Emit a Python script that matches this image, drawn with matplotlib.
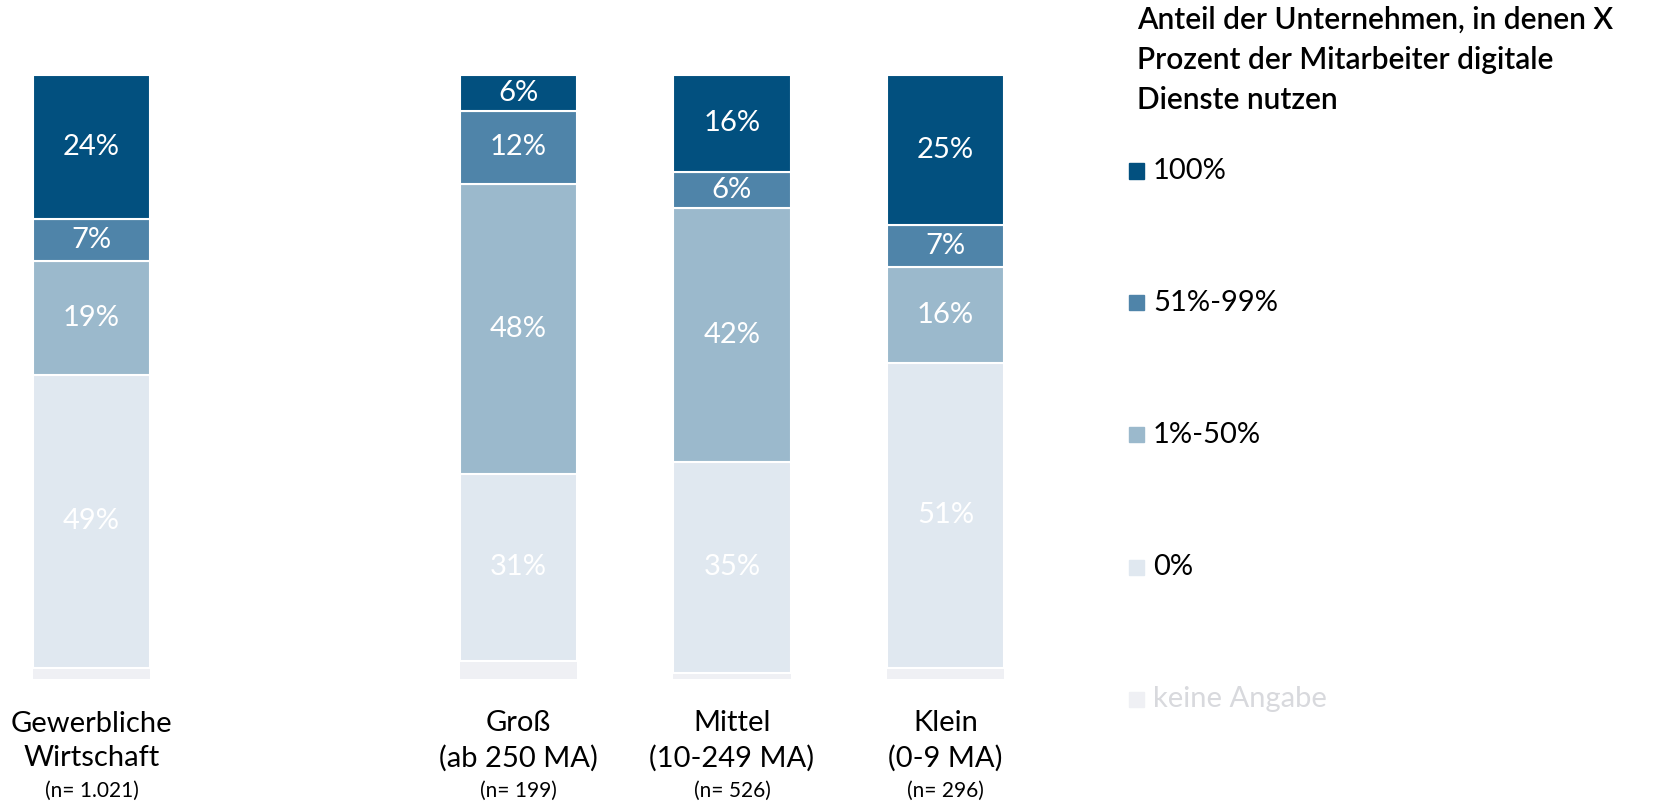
import numpy as np
import matplotlib.pyplot as plt
from matplotlib.patches import Rectangle

plt.rcParams['font.family'] = ['Lato', 'DejaVu Sans']

# data (percent of companies)
categories = ["Gewerbliche\nWirtschaft", "Groß\n(ab 250 MA)", "Mittel\n(10-249 MA)", "Klein\n(0-9 MA)"]
sample_sizes = ["(n= 1.021)", "(n= 199)", "(n= 526)", "(n= 296)"]
positions = [0, 2, 3, 4]

share_100 = [24, 6, 16, 25]
share_51_99 = [7, 12, 6, 7]
share_1_50 = [19, 48, 42, 16]
share_0 = [49, 31, 35, 51]
no_answer = [1.8, 3, 1, 1.8]

series_names = ["100%", "51%-99%", "1%-50%", "0%", "keine Angabe"]
colors = ["#02507f", "#4f84a9", "#9bb9cc", "#e0e8f0", "#eff0f4"]

# stack from bottom: keine Angabe, 0%, 1-50%, 51-99%, 100%
stack = [no_answer, share_0, share_1_50, share_51_99, share_100]
stack_colors = colors[::-1]

fig = plt.figure(figsize=(16.56, 8.05), dpi=100)
W, H = 1656, 805
ax = fig.add_axes([20 / W, (H - 679) / H, 1020 / W, 604 / H])

vals = np.array(stack, dtype=float)
vals = vals / vals.sum(axis=0) * 100
bottom = np.zeros(len(positions))
for i, row in enumerate(vals):
    ax.bar(positions, row, bottom=bottom, width=0.55, color=stack_colors[i],
           edgecolor="white", linewidth=1.5 if i > 0 else 0)
    if i > 0:
        for x, b, h, v in zip(positions, bottom, row, np.array(stack[i])):
            ax.text(x, b + h / 2, f"{v:.0f}%", ha="center", va="center",
                    color="white", fontsize=21)
    bottom += row

ppu = 213.5
ax.set_xlim((20 - 91.5) / ppu, (1040 - 91.5) / ppu)
ax.set_ylim(0, 100)
ax.axis("off")

# category labels
for x, cat, n in zip(positions, categories, sample_sizes):
    xf = (91.5 + ppu * x) / W
    fig.text(xf, 1 - 741 / H, cat, ha="center", va="center", fontsize=21,
             linespacing=1.38)
    fig.text(xf, 1 - 791 / H, n, ha="center", va="center", fontsize=15)

# legend title
fig.text(1137 / W, 1 - 60 / H,
         "Anteil der Unternehmen, in denen X\nProzent der Mitarbeiter digitale\nDienste nutzen",
         ha="left", va="center", fontsize=21.5, fontweight="semibold", linespacing=1.52)

# legend entries
legend_y = [171, 303, 435, 567, 699]
text_colors = ["black", "black", "black", "black", "#d8d9dd"]
for name, c, y, tc in zip(series_names, colors, legend_y, text_colors):
    fig.patches.append(Rectangle((1129 / W, 1 - (y + 7.5) / H), 15 / W, 15 / H,
                                 transform=fig.transFigure, color=c))
    fig.text(1153 / W, 1 - y / H, name, ha="left", va="center", fontsize=21,
             color=tc)

fig.savefig("out.png", dpi=100)
